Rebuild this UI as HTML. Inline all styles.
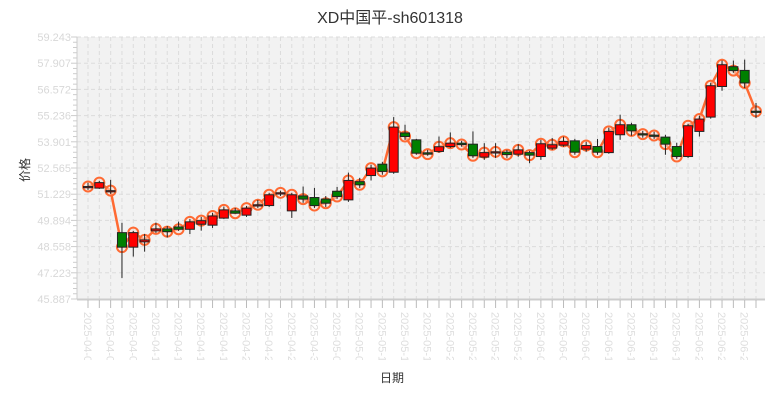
<!DOCTYPE html>
<html><head><meta charset="utf-8"><style>
html,body{margin:0;padding:0;background:#fff;}
svg{display:block;font-family:"Liberation Sans","Noto Sans CJK SC",sans-serif;}
</style></head><body>
<svg id="chart" width="780" height="400" viewBox="0 0 780 400" xmlns="http://www.w3.org/2000/svg">
<defs><clipPath id="xclip"><rect x="0" y="305" width="780" height="55"/></clipPath></defs>
<text x="390" y="23" text-anchor="middle" font-size="16" fill="#333">XD中国平-sh601318</text>
<rect x="77" y="37" width="688" height="262" fill="#f2f2f2"/>
<g id="grid"></g>
<g id="yaxis"></g>
<g id="xaxis"></g>
<g id="marks"></g>
<text x="0" y="0" transform="translate(29,170) rotate(-90)" text-anchor="middle" font-size="12" fill="#333">价格</text>
<text x="392" y="382" text-anchor="middle" font-size="12" fill="#333">日期</text>
</svg>
<script>
const dates = ["2025-04-01","2025-04-02","2025-04-03","2025-04-07","2025-04-08","2025-04-09","2025-04-10","2025-04-11","2025-04-14","2025-04-15","2025-04-16","2025-04-17","2025-04-18","2025-04-21","2025-04-22","2025-04-23","2025-04-24","2025-04-25","2025-04-28","2025-04-29","2025-04-30","2025-05-06","2025-05-07","2025-05-08","2025-05-09","2025-05-12","2025-05-13","2025-05-14","2025-05-15","2025-05-16","2025-05-19","2025-05-20","2025-05-21","2025-05-22","2025-05-23","2025-05-26","2025-05-27","2025-05-28","2025-05-29","2025-05-30","2025-06-03","2025-06-04","2025-06-05","2025-06-06","2025-06-09","2025-06-10","2025-06-11","2025-06-12","2025-06-13","2025-06-16","2025-06-17","2025-06-18","2025-06-19","2025-06-20","2025-06-23","2025-06-24","2025-06-25","2025-06-26","2025-06-27","2025-06-30"];
const opens = [51.60,51.54,51.35,49.27,48.53,48.80,49.36,49.46,49.56,49.44,49.70,49.65,50.01,50.38,50.16,50.66,50.65,51.26,50.38,51.14,51.06,50.98,51.38,50.94,51.87,52.18,52.76,52.35,54.35,54.00,53.34,53.41,53.66,53.83,53.78,53.12,53.37,53.37,53.27,53.35,53.15,53.58,53.73,53.95,53.53,53.66,53.35,54.26,54.77,54.31,54.24,54.14,53.66,53.15,54.43,55.16,56.72,57.73,57.54,55.46];
const closes = [51.62,51.82,51.41,48.53,49.27,48.90,49.46,49.32,49.44,49.82,49.88,50.12,50.43,50.26,50.52,50.69,51.20,51.30,51.20,50.98,50.65,50.77,51.11,51.93,51.71,52.56,52.39,54.65,54.17,53.32,53.27,53.65,53.83,53.76,53.19,53.35,53.39,53.25,53.49,53.22,53.80,53.75,53.92,53.37,53.71,53.37,54.43,54.77,54.46,54.29,54.22,53.78,53.15,54.72,55.06,56.76,57.83,57.53,56.90,55.45];
const highs = [51.81,51.91,51.96,49.77,49.36,49.20,49.78,49.61,49.83,49.97,50.07,50.28,50.60,50.53,50.63,50.94,51.30,51.41,51.30,51.62,51.55,51.14,51.60,52.33,52.06,52.73,52.88,55.16,54.77,54.05,53.49,54.17,54.38,53.95,54.43,53.83,53.83,53.49,53.78,53.44,54.00,54.09,54.16,54.05,53.90,54.04,54.62,55.28,54.87,54.46,54.41,54.26,53.85,54.82,55.23,56.91,58.04,58.04,58.09,55.88];
const lows = [51.45,51.50,51.25,46.96,48.05,48.30,49.26,49.02,49.36,49.20,49.37,49.51,49.97,50.23,50.07,50.53,50.58,51.14,50.02,50.79,50.53,50.58,50.99,50.84,51.55,51.93,52.22,52.27,54.00,53.24,53.19,53.34,53.59,53.65,53.08,52.98,53.08,53.08,53.14,52.81,52.98,53.49,53.65,53.24,53.39,53.24,53.29,54.00,54.21,54.11,54.05,53.24,53.03,53.08,54.17,55.08,56.50,57.42,56.64,55.11];
const yTicks = [45.887,47.223,48.558,49.894,51.229,52.565,53.901,55.236,56.572,57.907,59.243];

const NS="http://www.w3.org/2000/svg";
const yMin=45.887,yMax=59.243,plotTop=37,plotBot=299;
const xFirst=88,xLast=756;
function yScale(v){return plotBot-(v-yMin)/(yMax-yMin)*(plotBot-plotTop);}
function xScale(i){return xFirst+i*(xLast-xFirst)/(dates.length-1);}
function mk(tag,attrs,parent){const e=document.createElementNS(NS,tag);for(const k in attrs)e.setAttribute(k,attrs[k]);parent.appendChild(e);return e;}
const grid=document.getElementById('grid'),yax=document.getElementById('yaxis'),xax=document.getElementById('xaxis'),marks=document.getElementById('marks');

// horizontal grid + y labels
yTicks.forEach((t,k)=>{
  const y=yScale(t);
  const g=mk('line',{x1:77,x2:765,y1:y,y2:y,stroke:'#dcdcdc','stroke-dasharray':'4,3','stroke-width':1},grid);
  
  
  const lb=mk('text',{x:71,y:y+4,'text-anchor':'end','font-size':11,fill:'#d8d8d8'},yax);
  lb.textContent=t.toFixed(3);
  
  
  if(k<yTicks.length-1){
    for(let m=1;m<5;m++){
      const ym=y-(m/5)*(y-yScale(yTicks[k+1]));
      const mt=mk('line',{x1:73,x2:77,y1:ym,y2:ym,stroke:'#ccc'},yax);
      
      
    }
  }
  const mj=mk('line',{x1:71,x2:77,y1:y,y2:y,stroke:'#ccc'},yax);
  
  
});
const yl=mk('line',{x1:77,x2:77,y1:37,y2:299,stroke:'#ccc'},yax);


const xl=mk('line',{x1:77,x2:765,y1:299.5,y2:299.5,stroke:'#ccc','stroke-width':2},xax);



const xlab=mk('g',{'clip-path':'url(#xclip)'},xax);
dates.forEach((d,i)=>{
  const x=xScale(i);
  const g=mk('line',{x1:x,x2:x,y1:37,y2:299,stroke:'#dcdcdc','stroke-dasharray':'4,3'},grid);
  
  
  const t=mk('line',{x1:x,x2:x,y1:300,y2:308,stroke:'#bbb'},xax);
  
  
  if(i%2===0){
    const lb=mk('text',{x:0,y:0,transform:`translate(${x-4},312) rotate(90)`,'font-size':11,fill:'#dedede'},xlab);
    lb.textContent=d;
    
    
  }
});

// close line
const pts=closes.map((c,i)=>xScale(i)+','+yScale(c)).join(' ');
const pl=mk('polyline',{points:pts,fill:'none',stroke:'#ff6a33','stroke-width':2.5,'stroke-linejoin':'round'},marks);


closes.forEach((c,i)=>{
  const ci=mk('circle',{cx:xScale(i),cy:yScale(c),r:5,fill:'#f6e0d6','fill-opacity':0.5,stroke:'#ff6a33','stroke-width':2},marks);
  
  
});
// candles
dates.forEach((d,i)=>{
  const x=xScale(i),o=opens[i],c=closes[i];
  const w=mk('line',{x1:x,x2:x,y1:yScale(highs[i]),y2:yScale(lows[i]),stroke:'#222','stroke-width':1},marks);
  
  
  const top=yScale(Math.max(o,c)),bot=yScale(Math.min(o,c));
  const up=c>=o;
  const b=mk('rect',{x:x-4.5,y:top,width:9,height:Math.max(bot-top,1.2),fill:up?'#ff0000':'#008000',stroke:'#222','stroke-width':1},marks);
  
  
});
</script>
</body></html>
